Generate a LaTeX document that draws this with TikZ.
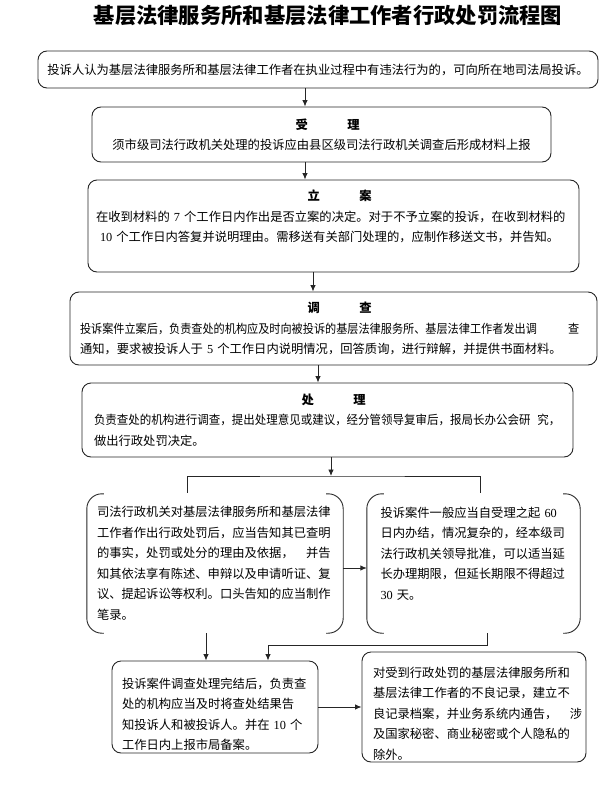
\documentclass[tikz,border=0pt]{standalone}
\usepackage{fontspec}
\usepackage{graphicx}
\setmainfont{Noto Sans CJK SC}
\newfontfamily\latin{Liberation Serif}
\usetikzlibrary{arrows.meta}
\newcommand{\lat}[1]{{\latin #1}}
\newcommand{\gap}[1]{\makebox[#1]{}}
\newcommand{\head}[2]{\hfill\hspace*{1em}{\bfseries #1\hspace{3.2em}#2}\hfill\null}
\newcommand{\dropln}[1]{\rule{0pt}{#1}}
\newcommand{\brak}[1]{\draw[ln, rounded corners=15pt] ([xshift=17pt]#1.north west) -- (#1.north west) -- (#1.south west) -- ([xshift=17pt]#1.south west);
	\draw[ln, rounded corners=15pt] ([xshift=-17pt]#1.north east) -- (#1.north east) -- (#1.south east) -- ([xshift=-17pt]#1.south east)}

\begin{document}
\begin{tikzpicture}[x=1pt,y=-1pt,
	ln/.style={draw=black!85, line width=0.9pt},
	arr/.style={ln, -{Latex[length=6.5pt,width=5.5pt]}},
	box/.style={ln, rounded corners=9pt, inner sep=0pt, font=\fontsize{12.3}{20.5}\selectfont},
	side/.style={inner sep=0pt, align=left, font=\fontsize{12.3}{20.5}\selectfont}]
	\useasboundingbox (0,0) rectangle (600,798);
	\node[font=\fontsize{21.3}{26}\selectfont\bfseries] (title) at (328,16) {基层法律服务所和基层法律工作者行政处罚流程图};
	\node[box, minimum width=560pt, minimum height=37pt] (accuse) at (318,69.5) {投诉人认为基层法律服务所和基层法律工作者在执业过程中有违法行为的，可向所在地司法局投诉。};
	\node[box, minimum width=459pt, minimum height=55pt, align=center] (accept) at (321.5,134.5) {\head{受}{理}\\须市级司法行政机关处理的投诉应由县区级司法行政机关调查后形成材料上报};
	\node[box, minimum width=491pt, minimum height=92pt, text width=475pt, align=left] (filing) at (333.5,226) {\head{立}{案}\\在收到材料的~\lat{7}~个工作日内作出是否立案的决定。对于不予立案的投诉，在收到材料的\\\hspace*{4pt}\lat{10}~个工作日内答复并说明理由。需移送有关部门处理的，应制作移送文书，并告知。\\\mbox{}};
	\node[box, minimum width=527pt, minimum height=73pt, text width=507pt, align=left] (probe) at (333.5,328.5) {\head{调}{查}\\\scalebox{0.906}[1]{投诉案件立案后，负责查处的机构应及时向被投诉的基层法律服务所、基层法律工作者发出调\gap{2.8em}查}\\通知，要求被投诉人于~\lat{5}~个工作日内说明情况，回答质询，进行辩解，并提供书面材料。};
	\node[box, minimum width=491pt, minimum height=74pt, text width=467pt, align=left] (handle) at (327.5,420) {\head{处}{理}\\\scalebox{0.934}[1]{负责查处的机构进行调查，提出处理意见或建议，经分管领导复审后，报局长办公会研\gap{0.6em}究，}\\做出行政处罚决定。};
	\node[side, minimum width=256pt, minimum height=139pt, text width=236pt] (notify) at (215,563.5) {司法行政机关对基层法律服务所和基层法律\\工作者作出行政处罚后，应当告知其已查明\\的事实，处罚或处分的理由及依据，\gap{1em}并告\\知其依法享有陈述、申辩以及申请听证、复\\议、提起诉讼等权利。口头告知的应当制作\\笔录。};
	\node[side, minimum width=213pt, minimum height=139pt, text width=186pt] (term) at (473.5,563.5) {投诉案件一般应当自受理之起~\lat{60}\\日内办结，情况复杂的，经本级司\\法行政机关领导批准，可以适当延\\长办理期限，但延长期限不得超过\\\lat{30}~天。\\\mbox{}};
	\node[box, minimum width=206pt, minimum height=92pt, text width=186pt, align=left] (report) at (215,707) {\dropln{25pt}投诉案件调查处理完结后，负责查\\处的机构应当及时将查处结果告\\知投诉人和被投诉人。并在~\lat{10}~个\\工作日内上报市局备案。};
	\node[box, minimum width=224pt, minimum height=110pt, text width=202pt, align=left] (record) at (474,707) {\dropln{23pt}对受到行政处罚的基层法律服务所和\\基层法律工作者的不良记录，建立不\\良记录档案，并业务系统内通告，\gap{1em}涉\\及国家秘密、商业秘密或个人隐私的\\除外。};
	\brak{notify};
	\brak{term};
	\coordinate (split) at (331,476);
	\draw[arr] ([xshift=-13pt]accuse.south) -- ([xshift=-16.5pt]accept.north);
	\draw[arr] ([xshift=-16.5pt]accept.south) -- ([xshift=-28.5pt]filing.north);
	\draw[arr] ([xshift=-20.5pt]filing.south) -- ([xshift=-20.5pt]probe.north);
	\draw[arr] ([xshift=-15.5pt]probe.south) -- ([xshift=-9.5pt]handle.north);
	\draw[arr] ([xshift=3.5pt]handle.south) -- (split);
	\draw[ln] ([xshift=-28pt,yshift=1pt]notify.north) |- (split) -| ([xshift=6.5pt,yshift=1pt]term.north);
	\draw[arr] ([yshift=-4.5pt]notify.east) -- ([yshift=-4.5pt]term.west);
	\draw[arr] ([xshift=-9pt]notify.south) -- ([xshift=-9pt]report.north);
	\draw[arr] ([xshift=13.5pt]term.south) -- ++(0,12) -| ([xshift=53pt]report.north);
	\draw[arr] (report.east) -- (record.west);
\end{tikzpicture}
\end{document}
